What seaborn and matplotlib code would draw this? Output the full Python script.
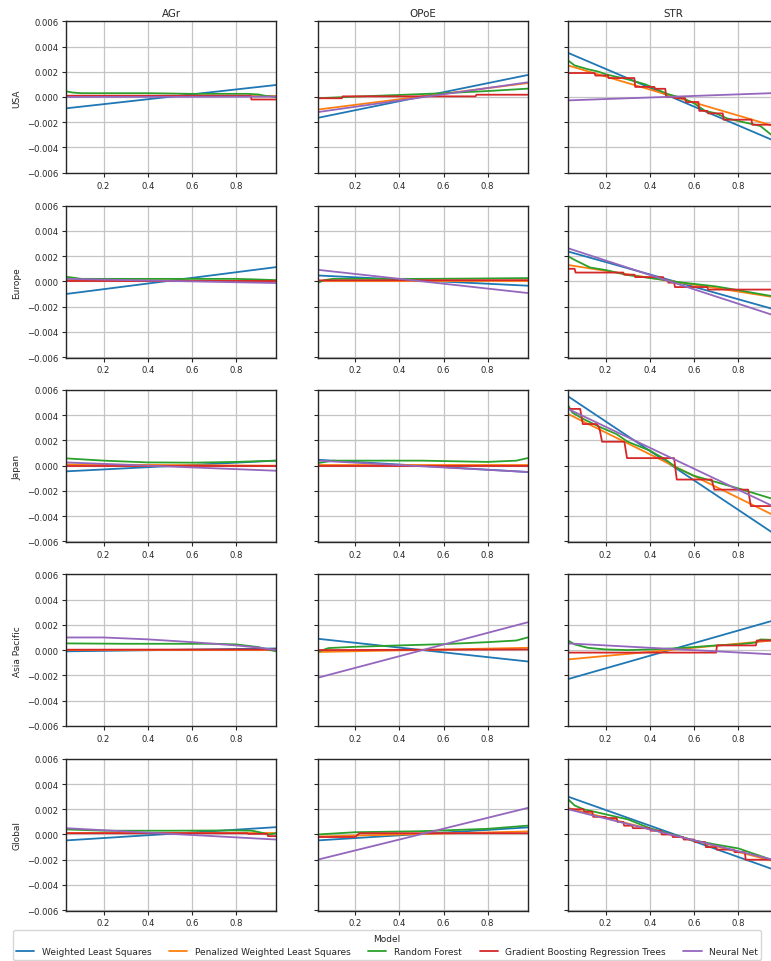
import matplotlib
matplotlib.use('Agg')
import matplotlib.pyplot as plt
import numpy as np
import pandas as pd
import seaborn as sns

models = ['Weighted Least Squares', 'Penalized Weighted Least Squares', 'Random Forest',
          'Gradient Boosting Regression Trees', 'Neural Net']
keys = ['wls', 'pwls', 'rf', 'gbrt', 'nn']
regions = ['USA', 'Europe', 'Japan', 'Asia Pacific', 'Global']
variables = ['AGr', 'OPoE', 'STR']
xticks = [0.2, 0.4, 0.6, 0.8]
yticks = [-0.006, -0.004, -0.002, 0.0, 0.002, 0.004, 0.006]

ends = [0.03, 0.98]


def steps(edges, levels, gap=0.004):
    # turn step edges / levels into a drawable path
    xs, ys = [edges[0]], [levels[0]]
    for i in range(1, len(levels)):
        xs += [edges[i], edges[i] + gap]
        ys += [levels[i - 1], levels[i]]
    xs.append(edges[-1])
    ys.append(levels[-1])
    return xs, ys


# ---- USA ----
usa_agr = {
    'wls': (ends, [-0.0009, 0.00095]),
    'pwls': (ends, [0.00005, 0.00005]),
    'rf': ([0.03, 0.06, 0.1, 0.2, 0.4, 0.6, 0.7, 0.85, 0.9, 0.93, 0.98],
           [0.00045, 0.00035, 0.0003, 0.0003, 0.0003, 0.00025, 0.00025, 0.00025, 0.0002, 0.0001, 0.0]),
    'gbrt': steps([0.03, 0.865, 0.98], [0.0001, -0.0002]),
    'nn': (ends, [0.0, 0.00003]),
}
usa_opoe = {
    'wls': (ends, [-0.00166, 0.00174]),
    'pwls': (ends, [-0.001, 0.0011]),
    'rf': ([0.03, 0.2, 0.4, 0.6, 0.8, 0.98], [-0.0001, 0.00003, 0.00016, 0.0003, 0.00047, 0.00066]),
    'gbrt': steps([0.03, 0.14, 0.745, 0.98], [-0.0001, 0.00005, 0.00018]),
    'nn': (ends, [-0.0012, 0.00116]),
}
usa_str = {
    'wls': (ends, [0.0035, -0.0036]),
    'pwls': (ends, [0.0025, -0.0024]),
    'rf': ([0.03, 0.06, 0.12, 0.17, 0.2, 0.3, 0.38, 0.42, 0.48, 0.55, 0.6, 0.65, 0.7, 0.75, 0.8, 0.9, 0.95, 0.98],
           [0.0029, 0.0025, 0.0022, 0.002, 0.0018, 0.0014, 0.001, 0.0007, 0.00024, -0.0001, -0.0005,
            -0.0011, -0.0013, -0.0017, -0.0019, -0.0023, -0.003, -0.0032]),
    'gbrt': steps([0.03, 0.15, 0.21, 0.33, 0.42, 0.47, 0.51, 0.56, 0.62, 0.66, 0.73, 0.86, 0.98],
                  [0.0019, 0.0017, 0.0015, 0.0008, 0.00065, 0.0, -0.0001, -0.0004, -0.0011, -0.0013,
                   -0.0018, -0.0022]),
    'nn': (ends, [-0.00027, 0.00032]),
}

# ---- Europe ----
europe_agr = {
    'wls': (ends, [-0.001, 0.00113]),
    'pwls': (ends, [0.0001, 0.00005]),
    'rf': ([0.03, 0.1, 0.3, 0.5, 0.8, 0.9, 0.98], [0.00037, 0.0002, 0.0002, 0.0002, 0.0002, 0.00015, 0.0001]),
    'gbrt': (ends, [0.00005, 0.00005]),
    'nn': (ends, [0.0002, -0.00013]),
}
europe_opoe = {
    'wls': (ends, [0.00047, -0.00034]),
    'pwls': (ends, [0.00003, 0.00003]),
    'rf': ([0.03, 0.06, 0.1, 0.3, 0.5, 0.7, 0.9, 0.98],
           [-0.00013, 0.0001, 0.0002, 0.0002, 0.0002, 0.00022, 0.00025, 0.00026]),
    'gbrt': (ends, [0.00008, 0.0001]),
    'nn': (ends, [0.00092, -0.00092]),
}
europe_str = {
    'wls': (ends, [0.00237, -0.0023]),
    'pwls': (ends, [0.0013, -0.0013]),
    'rf': ([0.03, 0.06, 0.13, 0.2, 0.3, 0.43, 0.5, 0.6, 0.7, 0.8, 0.95, 0.98],
           [0.002, 0.0017, 0.0011, 0.0009, 0.0005, 0.0002, 0.0, -0.0002, -0.0004, -0.0007, -0.00116, -0.0013]),
    'gbrt': steps([0.03, 0.06, 0.28, 0.33, 0.46, 0.48, 0.51, 0.66, 0.98],
                  [0.001, 0.0007, 0.00053, 0.00034, 0.0001, -0.0001, -0.00045, -0.00065]),
    'nn': (ends, [0.00263, -0.0028]),
}

# ---- Japan ----
japan_agr = {
    'wls': (ends, [-0.00045, 0.0004]),
    'pwls': (ends, [0.0001, 0.0]),
    'rf': ([0.03, 0.2, 0.4, 0.6, 0.8, 0.98], [0.00058, 0.0004, 0.00026, 0.00024, 0.0003, 0.0004]),
    'gbrt': (ends, [0.0, 0.0]),
    'nn': (ends, [0.00026, -0.0004]),
}
japan_opoe = {
    'wls': (ends, [0.00047, -0.0005]),
    'pwls': (ends, [0.00002, 0.00002]),
    'rf': ([0.03, 0.1, 0.3, 0.5, 0.8, 0.93, 0.98], [0.0002, 0.0004, 0.0004, 0.0004, 0.0003, 0.0004, 0.0006]),
    'gbrt': (ends, [0.0, 0.0]),
    'nn': (ends, [0.0004, -0.0005]),
}
japan_str = {
    'wls': (ends, [0.0055, -0.0056]),
    'pwls': (ends, [0.0041, -0.0041]),
    'rf': ([0.03, 0.05, 0.1, 0.17, 0.25, 0.3, 0.4, 0.47, 0.52, 0.6, 0.7, 0.8, 0.95, 0.98],
           [0.0048, 0.0042, 0.0037, 0.0031, 0.0025, 0.0019, 0.0012, 0.0005, -0.00015, -0.0008,
            -0.0013, -0.0018, -0.0026, -0.0028]),
    'gbrt': steps([0.03, 0.085, 0.16, 0.172, 0.285, 0.51, 0.68, 0.845, 0.98],
                  [0.0045, 0.0033, 0.003, 0.0019, 0.0006, -0.0011, -0.0019, -0.0032], gap=0.012),
    'nn': (ends, [0.0045, -0.0034]),
}

# ---- Asia Pacific ----
asia_agr = {
    'wls': (ends, [-0.0001, 0.00013]),
    'pwls': (ends, [0.00003, 0.00003]),
    'rf': ([0.03, 0.3, 0.5, 0.7, 0.8, 0.9, 0.93, 0.98],
           [0.00053, 0.0005, 0.0005, 0.0005, 0.00045, 0.00024, 0.0001, -0.0001]),
    'gbrt': (ends, [0.00003, 0.00005]),
    'nn': ([0.03, 0.2, 0.4, 0.6, 0.8, 0.9, 0.98], [0.001, 0.001, 0.00085, 0.00063, 0.00037, 0.0002, 0.0]),
}
asia_opoe = {
    'wls': (ends, [0.0009, -0.0009]),
    'pwls': (ends, [-0.00015, 0.00018]),
    'rf': ([0.03, 0.08, 0.2, 0.4, 0.6, 0.8, 0.93, 0.98],
           [-0.00015, 0.00016, 0.00026, 0.00037, 0.00047, 0.00063, 0.00076, 0.001]),
    'gbrt': (ends, [0.0, 0.00005]),
    'nn': (ends, [-0.0022, 0.0022]),
}
asia_str = {
    'wls': (ends, [-0.0023, 0.00245]),
    'pwls': (ends, [-0.00074, 0.0008]),
    'rf': ([0.03, 0.06, 0.12, 0.2, 0.3, 0.4, 0.5, 0.6, 0.7, 0.8, 0.88, 0.9, 0.98],
           [0.00076, 0.00045, 0.00018, 0.00005, 0.0, 0.00005, 0.00013, 0.00024, 0.00037, 0.00045,
            0.0006, 0.00084, 0.0008]),
    'gbrt': steps([0.03, 0.7, 0.88, 0.98], [-0.0002, 0.00037, 0.00076]),
    'nn': (ends, [0.00053, -0.00036]),
}

# ---- Global ----
global_agr = {
    'wls': (ends, [-0.00047, 0.00058]),
    'pwls': (ends, [0.0001, 0.0001]),
    'rf': ([0.03, 0.2, 0.5, 0.8, 0.87, 0.9, 0.95, 0.98], [0.0004, 0.0003, 0.0003, 0.00032, 0.0003, 0.0002, 0.0, 0.0001]),
    'gbrt': steps([0.03, 0.85, 0.94, 0.98], [0.0001, 0.00005, -0.00013]),
    'nn': (ends, [0.0005, -0.0004]),
}
global_opoe = {
    'wls': (ends, [-0.00047, 0.00056]),
    'pwls': (ends, [-0.00016, 0.00024]),
    'rf': ([0.03, 0.2, 0.5, 0.8, 0.98], [0.0, 0.00018, 0.00026, 0.00045, 0.0007]),
    'gbrt': steps([0.03, 0.2, 0.98], [-0.0002, 0.0001], gap=0.02),
    'nn': (ends, [-0.002, 0.0021]),
}
global_str = {
    'wls': (ends, [0.003, -0.0029]),
    'pwls': (ends, [0.0021, -0.0022]),
    'rf': ([0.03, 0.06, 0.1, 0.2, 0.3, 0.4, 0.5, 0.6, 0.7, 0.8, 0.9, 0.95, 0.98],
           [0.0028, 0.0023, 0.002, 0.0016, 0.0012, 0.0005, 0.0, -0.00047, -0.0008, -0.0011, -0.0017, -0.002, -0.0021]),
    'gbrt': steps([0.03, 0.1, 0.14, 0.2, 0.25, 0.28, 0.32, 0.4, 0.45, 0.5, 0.55, 0.6, 0.65, 0.7, 0.78, 0.83, 0.98],
                  [0.002, 0.0018, 0.0014, 0.0013, 0.001, 0.0007, 0.0005, 0.0003, 0.0, -0.0002, -0.0004,
                   -0.0006, -0.001, -0.0012, -0.0014, -0.002]),
    'nn': (ends, [0.002, -0.0021]),
}

panels = [
    [usa_agr, usa_opoe, usa_str],
    [europe_agr, europe_opoe, europe_str],
    [japan_agr, japan_opoe, japan_str],
    [asia_agr, asia_opoe, asia_str],
    [global_agr, global_opoe, global_str],
]

# long table for seaborn
rows = []
for r, region in enumerate(regions):
    for c, var in enumerate(variables):
        for key, model in zip(keys, models):
            xs, ys = panels[r][c][key]
            for i, (xv, yv) in enumerate(zip(xs, ys)):
                rows.append((region, var, model, i, xv, yv))
df = pd.DataFrame(rows, columns=['Region', 'Variable', 'Model', 'order', 'x', 'y'])

sns.set_theme(style='ticks', rc={
    'axes.grid': True,
    'grid.color': '#c4c4c4',
    'grid.linewidth': 0.9,
    'axes.edgecolor': '#262626',
    'axes.linewidth': 1.0,
    'xtick.major.size': 3,
    'ytick.major.size': 3,
    'xtick.major.width': 0.8,
    'ytick.major.width': 0.8,
    'xtick.major.pad': 2.5,
    'ytick.major.pad': 2.5,
    'xtick.labelsize': 6.1,
    'ytick.labelsize': 6.1,
    'axes.labelsize': 6.5,
    'axes.titlesize': 7.4,
})
plt.rcParams['font.family'] = ['DejaVu Sans']

W, H = 771, 962
fig = plt.figure(figsize=(W / 100, H / 100), dpi=100)
palette = sns.color_palette('tab10', 5)

col_left = [66, 317.5, 568]
row_top = [22.3, 206.7, 391, 575.4, 759.8]
aw, ah = 210, 152

handles, labels = None, None
for r, region in enumerate(regions):
    for c, var in enumerate(variables):
        ax = fig.add_axes([col_left[c] / W, 1 - (row_top[r] + ah) / H, aw / W, ah / H])
        sub = df[(df['Region'] == region) & (df['Variable'] == var)]
        sns.lineplot(data=sub, x='x', y='y', hue='Model', hue_order=models, palette=palette,
                     estimator=None, sort=False, linewidth=1.3, ax=ax,
                     legend=(r == 0 and c == 0))
        if r == 0 and c == 0:
            handles, labels = ax.get_legend_handles_labels()
            ax.get_legend().remove()
        ax.margins(x=0)
        ax.set_ylim(-0.00605, 0.006)
        ax.set_xticks(xticks)
        ax.set_yticks(yticks)
        ax.set_xlabel('')
        ax.set_ylabel(region if c == 0 else '', labelpad=4)
        if c > 0:
            ax.set_yticklabels([])
        if r == 0:
            ax.set_title(var, pad=4)
        for s in ax.spines.values():
            s.set_visible(True)

fig.legend(handles, labels, title='Model', loc='upper center', ncol=5,
           bbox_to_anchor=(387 / W, 1 - 931 / H), fontsize=6.5, title_fontsize=6.5,
           frameon=True, borderaxespad=0)

fig.savefig('out.png', dpi=100)
